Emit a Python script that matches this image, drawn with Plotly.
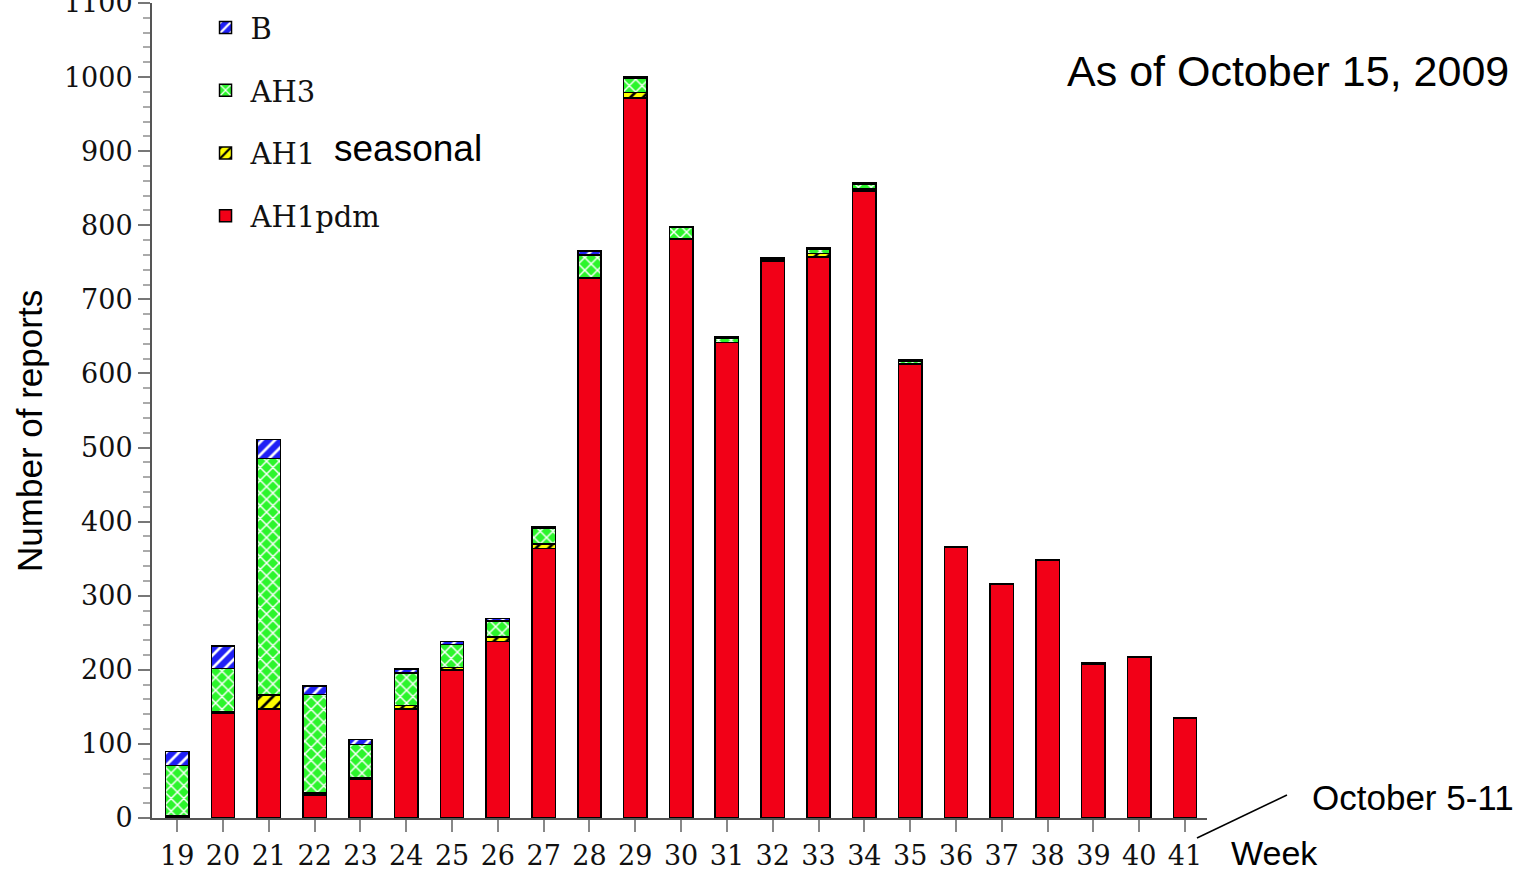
import plotly.graph_objects as go

weeks = [19, 20, 21, 22, 23, 24, 25, 26, 27, 28, 29, 30, 31, 32, 33, 34, 35, 36, 37, 38, 39, 40, 41]
ah1pdm = [3, 142, 147, 31, 52, 147, 200, 238, 364, 728, 972, 781, 642, 752, 757, 846, 612, 366, 316, 348, 207, 217, 135]
ah1 = [0, 2, 19, 3, 2, 5, 3, 6, 6, 1, 7, 1, 0, 1, 5, 3, 1, 0, 0, 0, 0, 0, 0]
ah3 = [68, 58, 319, 133, 45, 44, 31, 22, 21, 31, 20, 15, 6, 2, 5, 6, 3, 0, 0, 0, 2, 0, 0]
b = [19, 30, 26, 11, 7, 5, 4, 3, 2, 5, 2, 1, 2, 1, 2, 2, 2, 0, 0, 1, 1, 0, 0]

y_ticks = [0, 100, 200, 300, 400, 500, 600, 700, 800, 900, 1000, 1100]

SERIF = "DejaVu Serif"
SANS = "Liberation Sans"

# name, values, colour, pattern shape, pattern colour, legend rank
series = [
    ("AH1pdm", ah1pdm, "#f20017", None, None, 4),
    ("AH1", ah1, "#ffff00", "/", "#000000", 3),
    ("AH3", ah3, "#2cf52c", "x", "#ffffff", 2),
    ("B", b, "#1f1ff5", "/", "#ffffff", 1),
]

fig = go.Figure()
for name, vals, col, shape, fg, rank in series:
    marker = dict(color=col, line=dict(color="#000000", width=1.5))
    if shape:
        marker["pattern"] = dict(shape=shape, fgcolor=fg, bgcolor=col, size=9,
                                 solidity=0.3, fgopacity=1)
    fig.add_trace(go.Bar(x=weeks, y=vals, name=name, marker=marker, width=0.51,
                         legendgroup=name, legendrank=rank))

fig.update_layout(
    barmode="stack",
    width=1527, height=872,
    paper_bgcolor="white", plot_bgcolor="white",
    margin=dict(l=152, r=320, t=3, b=54, autoexpand=False),
    showlegend=True,
    legend=dict(x=0.046, y=1.001, xanchor="left", yanchor="top",
                traceorder="grouped", tracegroupgap=22, itemwidth=40,
                font=dict(family=SERIF, size=29, color="#111"),
                bgcolor="rgba(0,0,0,0)"),
    font=dict(family=SERIF, size=27, color="#111"),
)

fig.update_xaxes(
    range=[18.45, 41.48], tickmode="array", tickvals=weeks,
    ticktext=[str(w) for w in weeks], automargin=False,
    showline=True, linecolor="#555", linewidth=2, mirror=False,
    ticks="outside", ticklen=12, tickcolor="#888", tickwidth=1.5,
    showgrid=False, zeroline=False, ticklabelstandoff=1,
    ticklabeloverflow="allow",
    tickfont=dict(family=SERIF, size=27, color="#111"),
)
fig.update_yaxes(
    range=[0, 1100], tickmode="array", tickvals=y_ticks, automargin=False,
    showline=True, linecolor="#555", linewidth=2,
    ticks="outside", ticklen=12, tickcolor="#777", tickwidth=1.5,
    minor=dict(dtick=20, ticks="outside", ticklen=7, tickcolor="#aaa", tickwidth=1.5),
    showgrid=False, zeroline=False, ticklabeloverflow="allow",
    tickfont=dict(family=SERIF, size=27, color="#111"),
)

fig.add_annotation(text="Number of reports", xref="paper", yref="paper",
                   x=-0.1156, y=0.475, textangle=-90, showarrow=False,
                   xanchor="center", yanchor="middle",
                   font=dict(family=SANS, size=35, color="#000"))
fig.add_annotation(text="seasonal", xref="paper", yref="paper",
                   x=0.171, y=0.821, xanchor="left", yanchor="middle", showarrow=False,
                   font=dict(family=SANS, size=37, color="#000"))
fig.add_annotation(text="As of October 15, 2009", xref="paper", yref="paper",
                   x=1.0768, y=0.917, xanchor="center", yanchor="middle", showarrow=False,
                   font=dict(family=SANS, size=43, color="#000"))
fig.add_annotation(text="October 5-11", xref="paper", yref="paper",
                   x=1.098, y=0.025, xanchor="left", yanchor="middle", showarrow=False,
                   font=dict(family=SANS, size=35, color="#000"))
fig.add_annotation(text="Week", xref="paper", yref="paper",
                   x=1.021, y=-0.043, xanchor="left", yanchor="middle", showarrow=False,
                   font=dict(family=SANS, size=34, color="#000"))
fig.add_shape(type="line", xref="paper", yref="paper",
              x0=0.9905, y0=-0.0245, x1=1.0758, y1=0.0282,
              line=dict(color="#000", width=1.5))

fig.write_html("out.html", config={"displayModeBar": False},
               post_script="document.body.style.margin='0';document.body.style.overflow='hidden';")
